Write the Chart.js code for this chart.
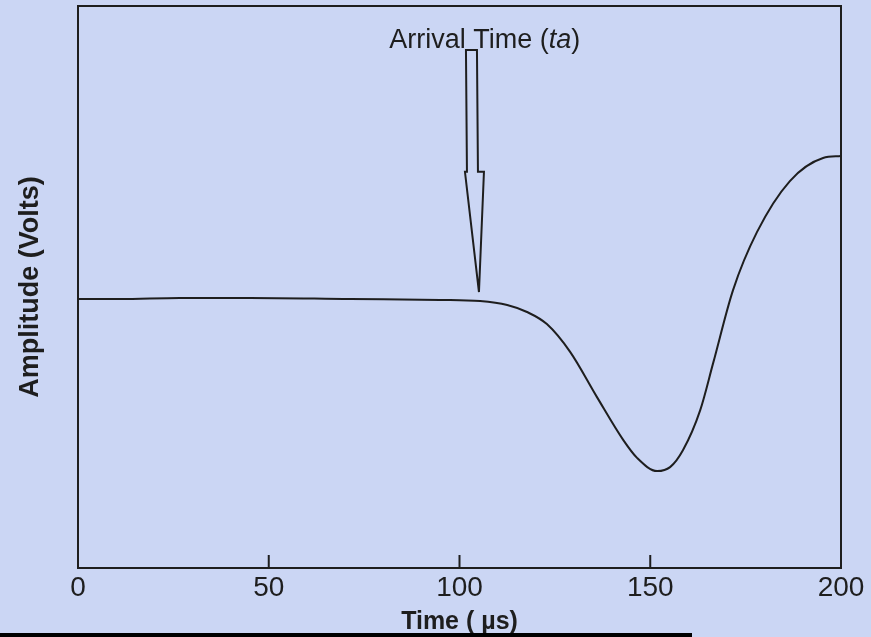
<!DOCTYPE html>
<html>
<head>
  <meta name="viewport" content="width=device-width, initial-scale=1.0">
  <title>Arrival Time</title>
  <script src="https://cdn.jsdelivr.net/npm/chart.js"></script>
  <style>
    body {
      margin: 0;
      padding: 0;
      background: #cbd6f4;
    }
    #wrap {
      width: 871px;
      height: 637px;
    }
  </style>
</head>
<body>
  <div id="wrap"><canvas id="myChart"></canvas></div>

  <script>
    // data
    const timeUs = [0, 11, 26.7, 45.1, 71.3, 94.9, 105.4, 112.5, 117.7, 122.9, 129, 136,
      142.9, 146.6, 151.8, 155.2, 158.6, 163.1, 166.5, 171.7, 178, 186.6, 195.3, 200];
    const amplitude = [-0.043, -0.043, -0.039, -0.039, -0.043, -0.046, -0.05, -0.064, -0.089, -0.132, -0.231,
      -0.391, -0.544, -0.609, -0.655, -0.641, -0.58, -0.438, -0.27, -0.011, 0.196, 0.377, 0.459, 0.466];
    const xTicks = [0, 50, 100, 150, 200];

    // arrow annotation (data units)
    const arrivalTime = 105.1;
    const arrowTip = -0.018;
    const arrowHeadBase = 0.41;
    const arrowTop = 0.843;
    const labelX = 106.6;
    const labelY = 0.851;

    const ink = '#1e1e1e';
    const font = "'Liberation Sans', Arial, sans-serif";

    const decor = {
      id: 'decor',
      beforeDraw(chart) {
        const c = chart.ctx;
        c.save();
        c.fillStyle = '#cbd6f4';
        c.fillRect(0, 0, chart.width, chart.height);
        c.restore();
      },
      afterDraw(chart) {
        const c = chart.ctx;
        const a = chart.chartArea;
        const xs = chart.scales.x, ys = chart.scales.y;
        c.save();
        c.strokeStyle = ink;
        c.lineWidth = 2;
        c.strokeRect(a.left, a.top, a.right - a.left, a.bottom - a.top);

        // inward tick marks
        c.beginPath();
        xs.ticks.forEach(t => {
          const px = xs.getPixelForValue(t.value);
          c.moveTo(px, a.bottom);
          c.lineTo(px, a.bottom - 13);
        });
        c.stroke();

        // hollow arrow
        const tx = xs.getPixelForValue(arrivalTime);
        const ty = ys.getPixelForValue(arrowTip);
        const hb = ys.getPixelForValue(arrowHeadBase);
        const top = ys.getPixelForValue(arrowTop);
        c.beginPath();
        c.moveTo(tx - 13, top);
        c.lineTo(tx - 2, top);
        c.lineTo(tx - 1, hb);
        c.lineTo(tx + 5, hb);
        c.lineTo(tx, ty);
        c.lineTo(tx - 14, hb);
        c.lineTo(tx - 12, hb);
        c.closePath();
        c.lineWidth = 2;
        c.stroke();

        // label
        const lx = xs.getPixelForValue(labelX);
        const ly = ys.getPixelForValue(labelY);
        const p1 = 'Arrival Time (', p2 = 'ta', p3 = ')';
        c.fillStyle = ink;
        c.textBaseline = 'alphabetic';
        c.font = '27px ' + font;
        const w1 = c.measureText(p1).width, w3 = c.measureText(p3).width;
        c.font = 'italic 27px ' + font;
        const w2 = c.measureText(p2).width;
        let x0 = lx - (w1 + w2 + w3) / 2;
        c.font = '27px ' + font;
        c.fillText(p1, x0, ly);
        c.font = 'italic 27px ' + font;
        c.fillText(p2, x0 + w1, ly);
        c.font = '27px ' + font;
        c.fillText(p3, x0 + w1 + w2, ly);

        // black strip along the bottom edge
        c.fillStyle = '#000';
        c.fillRect(0, 633, 692, 4);
        c.restore();
      }
    };

    const ctx = document.getElementById('myChart').getContext('2d');
    const chart = new Chart(ctx, {
      type: 'line',
      data: {
        datasets: [{
          data: timeUs.map((t, i) => ({ x: t, y: amplitude[i] })),
          borderColor: ink,
          borderWidth: 2,
          pointRadius: 0,
          cubicInterpolationMode: 'monotone',
          fill: false
        }]
      },
      options: {
        responsive: true,
        maintainAspectRatio: false,
        animation: false,
        layout: { padding: { top: 6, right: 30, left: 0, bottom: 0 } },
        plugins: {
          legend: { display: false },
          tooltip: { enabled: false }
        },
        scales: {
          x: {
            type: 'linear',
            min: 0,
            max: 200,
            afterBuildTicks: s => { s.ticks = xTicks.map(v => ({ value: v })); },
            afterFit: s => { s.height = 69; },
            grid: { display: false, drawTicks: false },
            border: { display: false },
            ticks: {
              padding: 3,
              color: ink,
              font: { family: font, size: 28 },
              maxRotation: 0
            },
            title: {
              display: true,
              text: 'Time ( µs)',
              color: ink,
              padding: { top: 0, bottom: 0 },
              font: { family: font, size: 25, weight: 'bold' }
            }
          },
          y: {
            min: -1,
            max: 1,
            afterFit: s => { s.width = 78; },
            grid: { display: false, drawTicks: false },
            border: { display: false },
            ticks: { display: false },
            title: {
              display: true,
              text: 'Amplitude (Volts)',
              color: ink,
              padding: { top: 14, bottom: 0 },
              font: { family: font, size: 27, weight: 'bold' }
            }
          }
        }
      },
      plugins: [decor]
    });
  </script>
</body>
</html>
